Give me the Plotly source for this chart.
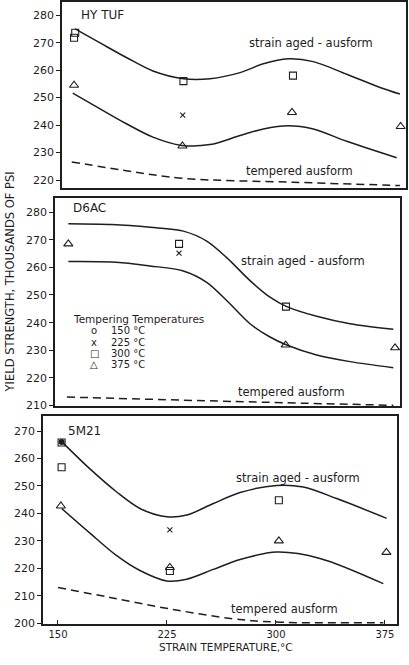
import plotly.graph_objects as go

W, H = 409, 665
def px(x): return x / W
def py(y): return 1 - y / H

# ---------------- DATA ----------------
ticks_x = [150, 225, 300, 375]
legend_labels = ["150 °C", "225 °C", "300 °C", "375 °C"]
legend_glyphs = ["o", "x", "□", "△"]

# HY TUF
hy_upper_T = [151.4, 168.6, 187, 205, 225.9, 244.3, 265, 281, 298, 315.4, 338.4, 361.3, 375]
hy_upper_v = [275.0, 269.9, 264.5, 259.7, 256.9, 256.9, 259.1, 262.3, 264.1, 263.1, 258.5, 253.7, 251.3]
hy_lower_T = [149.8, 168.6, 187, 205, 224.8, 244.3, 265, 281, 298, 315.4, 338.4, 372.8]
hy_lower_v = [251.6, 245.9, 240.4, 235.6, 232.6, 232.9, 236.2, 238.6, 239.8, 238.6, 234.1, 228.1]
hy_temp_T = [149.1, 191.5, 225.9, 301.6, 375]
hy_temp_v = [226.6, 223.0, 220.6, 219.2, 218.0]
hy_sq_T = [150.7, 151.5, 226.0, 301.4]
hy_sq_v = [271.8, 273.6, 256.0, 258.0]
hy_x_T = [225.5]
hy_x_v = [243.6]
hy_tri_T = [150.7, 225.3, 300.7, 375.5]
hy_tri_v = [254.5, 232.4, 244.6, 239.5]

# D6AC
d6_upper_T = [150, 180, 206.4, 229.4, 245.5, 259.3, 275.4, 289.2, 300.7, 321.4, 344.4, 374.3]
d6_upper_v = [275.8, 275.5, 274.5, 273.1, 269.5, 263.5, 255.2, 249.2, 245.8, 242.3, 239.6, 237.6]
d6_lower_T = [150, 180, 206.4, 229.4, 245.5, 259.3, 275.4, 289.2, 300.7, 321.4, 344.4, 374.3]
d6_lower_v = [262.1, 261.9, 260.5, 258.7, 254.6, 248.0, 239.6, 234.8, 231.9, 228.3, 225.9, 223.7]
d6_temp_T = [149, 263.9, 374.3]
d6_temp_v = [213.1, 211.5, 210.1]
d6_sq_T = [226.4, 300.2]
d6_sq_v = [268.5, 245.8]
d6_x_T = [226.4]
d6_x_v = [265.1]
d6_tri_T = [150, 300.0, 375.5]
d6_tri_v = [268.5, 231.9, 230.9]

# 5M21
m5_upper_T = [153.6, 172, 190.4, 206.4, 224.8, 238.6, 256.9, 275.3, 300.5, 318.8, 341.8, 376.2]
m5_upper_v = [265.6, 256.2, 247.8, 241.8, 238.8, 239.4, 243.6, 247.6, 250.2, 249.6, 245.4, 238.2]
m5_lower_T = [152.5, 172, 190.4, 206.4, 224.8, 238.6, 256.9, 275.3, 300.5, 330.3, 373.9]
m5_lower_v = [241.8, 232.8, 224.6, 219.2, 215.4, 216.0, 219.6, 223.2, 225.9, 223.6, 214.4]
m5_temp_T = [150, 185.8, 227.1, 270.6, 300.5, 373.9]
m5_temp_v = [213.0, 209.4, 205.2, 201.6, 200.4, 200.2]
m5_circ_T = [152.5]
m5_circ_v = [266.0]
m5_sq_T = [152.5, 152.5, 227.0, 302.0]
m5_sq_v = [265.8, 256.8, 219.0, 244.8]
m5_x_T = [227.0]
m5_x_v = [234.0]
m5_tri_T = [152.0, 227.0, 302.0, 376.0]
m5_tri_v = [242.7, 220.3, 230.0, 225.8]

INK = "#1e1e1e"
FONT = "DejaVu Sans"

fig = go.Figure()

panels = [
    dict(ax="", upT=hy_upper_T, upV=hy_upper_v, loT=hy_lower_T, loV=hy_lower_v,
         tT=hy_temp_T, tV=hy_temp_v, circ=([], []), sq=(hy_sq_T, hy_sq_v),
         xx=(hy_x_T, hy_x_v), tri=(hy_tri_T, hy_tri_v),
         xdom=[px(62), px(406)], ydom=[py(190), py(2)], xr=[142.4, 379.2], yr=[217.0, 284.8],
         yt=[220, 230, 240, 250, 260, 270, 280]),
    dict(ax="2", upT=d6_upper_T, upV=d6_upper_v, loT=d6_lower_T, loV=d6_lower_v,
         tT=d6_temp_T, tV=d6_temp_v, circ=([], []), sq=(d6_sq_T, d6_sq_v),
         xx=(d6_x_T, d6_x_v), tri=(d6_tri_T, d6_tri_v),
         xdom=[px(55), px(400)], ydom=[py(410), py(200)], xr=[140.8, 378.9], yr=[209.75, 285.0],
         yt=[210, 220, 230, 240, 250, 260, 270, 280]),
    dict(ax="3", upT=m5_upper_T, upV=m5_upper_v, loT=m5_lower_T, loV=m5_lower_v,
         tT=m5_temp_T, tV=m5_temp_v, circ=(m5_circ_T, m5_circ_v), sq=(m5_sq_T, m5_sq_v),
         xx=(m5_x_T, m5_x_v), tri=(m5_tri_T, m5_tri_v),
         xdom=[px(43), px(397)], ydom=[py(630), py(420)], xr=[139.7, 383.3], yr=[199.6, 275.4],
         yt=[200, 210, 220, 230, 240, 250, 260, 270]),
]

for i, p in enumerate(panels):
    xa, ya = "x" + p["ax"], "y" + p["ax"]
    line_kw = dict(xaxis=xa, yaxis=ya, mode="lines", showlegend=False, hoverinfo="skip")
    fig.add_trace(go.Scatter(x=p["upT"], y=p["upV"], line=dict(color=INK, width=1.5, shape="spline", smoothing=0.9), **line_kw))
    fig.add_trace(go.Scatter(x=p["loT"], y=p["loV"], line=dict(color=INK, width=1.5, shape="spline", smoothing=0.9), **line_kw))
    fig.add_trace(go.Scatter(x=p["tT"], y=p["tV"], line=dict(color=INK, width=1.5, dash="8px,5px", shape="spline"), **line_kw))
    mk = dict(xaxis=xa, yaxis=ya, mode="markers", showlegend=False)
    if p["circ"][0]:
        fig.add_trace(go.Scatter(x=p["circ"][0], y=p["circ"][1],
                                 marker=dict(symbol="circle", size=6, color=INK), **mk))
    fig.add_trace(go.Scatter(x=p["sq"][0], y=p["sq"][1],
                             marker=dict(symbol="square-open", size=7, color=INK, line=dict(width=1.1)), **mk))
    fig.add_trace(go.Scatter(x=p["xx"][0], y=p["xx"][1],
                             marker=dict(symbol="x-thin-open", size=5, color=INK, line=dict(width=1.1)), **mk))
    fig.add_trace(go.Scatter(x=p["tri"][0], y=p["tri"][1],
                             marker=dict(symbol="triangle-up-open", size=8, color=INK, line=dict(width=1.1)), **mk))

    last = (i == 2)
    fig.layout["xaxis" + p["ax"]] = dict(
        domain=p["xdom"], range=p["xr"], anchor=ya,
        showline=True, mirror=True, linecolor=INK, linewidth=1.6,
        showgrid=False, zeroline=False,
        tickmode="array", tickvals=ticks_x if last else [],
        ticks="inside" if last else "", ticklen=5, tickcolor=INK,
        showticklabels=last, tickfont=dict(family=FONT, size=10, color=INK),
    )
    fig.layout["yaxis" + p["ax"]] = dict(
        domain=p["ydom"], range=p["yr"], anchor=xa,
        showline=True, mirror=True, linecolor=INK, linewidth=1.6,
        showgrid=False, zeroline=False,
        tickmode="array", tickvals=p["yt"], ticks="outside", ticklen=4, tickcolor=INK,
        tickfont=dict(family=FONT, size=11, color=INK),
    )

anns = []
def txt(t, x, y, xanchor="left", size=12, angle=0):
    anns.append(dict(text=t, x=px(x), y=py(y), xref="paper", yref="paper",
                     xanchor=xanchor, yanchor="middle", showarrow=False, textangle=angle,
                     borderpad=0,
                     font=dict(family=FONT, size=size, color=INK)))

txt("HY TUF", 80, 15)
txt("strain aged - ausform", 248, 43, size=11.5)
txt("tempered ausform", 245, 173, size=11.5)
txt("D6AC", 72, 210)
txt("strain aged - ausform", 240, 263, size=11.5)
txt("tempered ausform", 237, 396, size=11.5)
txt("Tempering Temperatures", 72, 322, size=10.5)
for gy, g, lab in zip([334, 345.7, 356.7, 368.3], legend_glyphs, legend_labels):
    txt(g, 94, gy, xanchor="center", size=10)
    txt(lab, 110, gy, size=10)
txt("5M21", 67, 435)
txt("strain aged - ausform", 235, 482, size=11.5)
txt("tempered ausform", 230, 615, size=11.5)
txt("YIELD STRENGTH, THOUSANDS OF PSI", 10, 285, xanchor="center", size=11.5, angle=-90)
txt("STRAIN TEMPERATURE,°C", 226, 653, xanchor="center", size=10.5)

fig.update_layout(
    width=W, height=H, margin=dict(l=0, r=0, t=0, b=0),
    paper_bgcolor="white", plot_bgcolor="white",
    annotations=anns, showlegend=False,
)

fig.write_html("out.html")
